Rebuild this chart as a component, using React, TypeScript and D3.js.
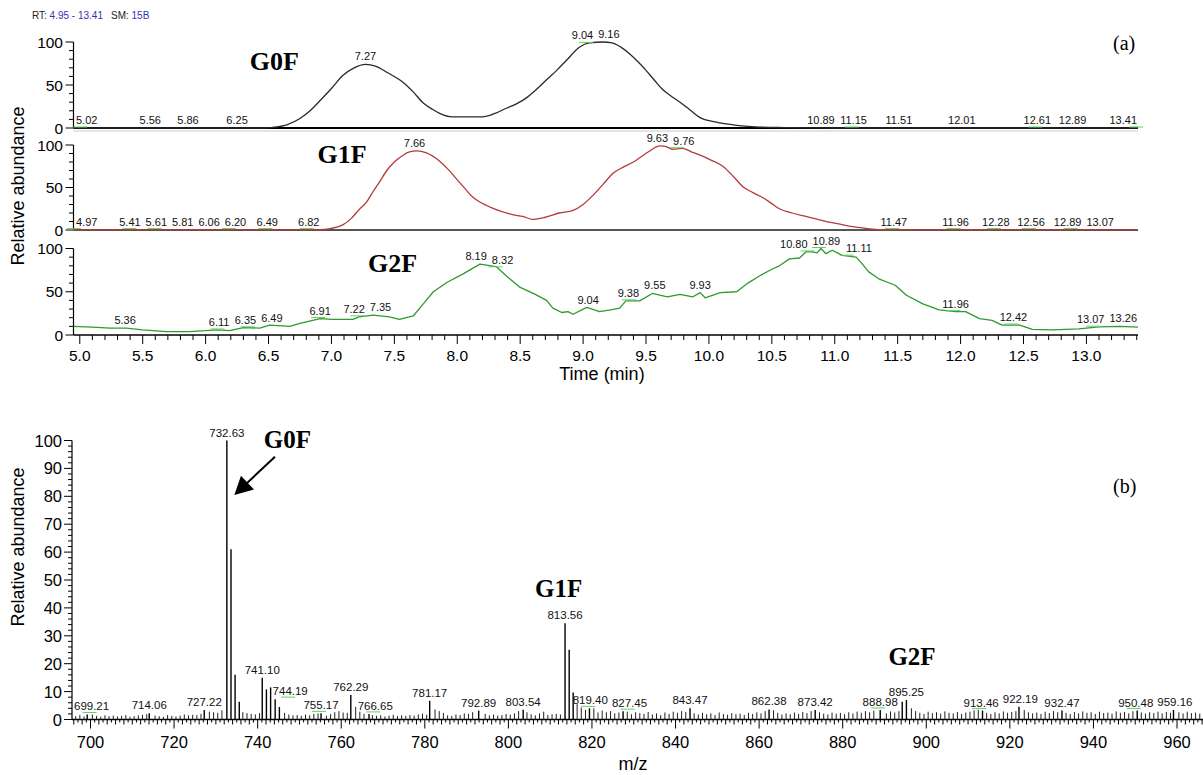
import React from 'react';
import * as d3 from 'd3';

const W = 1203;
const H = 775;

// ---------- Panel (a): extracted ion chromatograms (time in min, relative abundance) ----------
const g0fTrace: [number, number][] = [
  [4.95, 0], [5.5, 0], [6.0, 0], [6.45, 0], [6.55, 1], [6.65, 4], [6.75, 11], [6.83, 20], [6.91, 32],
  [7.0, 46], [7.09, 61], [7.18, 70], [7.27, 74], [7.35, 72], [7.45, 64], [7.57, 53], [7.65, 42],
  [7.73, 29], [7.8, 22], [7.86, 17], [7.96, 13], [8.1, 13], [8.2, 13], [8.3, 17], [8.39, 23],
  [8.47, 28], [8.55, 35], [8.63, 45], [8.71, 56], [8.79, 67], [8.87, 79], [8.97, 94], [9.05, 99],
  [9.16, 100], [9.23, 99], [9.3, 94], [9.38, 85], [9.45, 75], [9.5, 67], [9.57, 55], [9.63, 45],
  [9.7, 37], [9.77, 30], [9.85, 21], [9.93, 12], [10.05, 7], [10.22, 3], [10.4, 1], [10.6, 0.5],
  [11.0, 0], [13.41, 0],
];

const g1fTrace: [number, number][] = [
  [4.95, 0.5], [5.5, 0.5], [6.0, 0.5], [6.5, 0.5], [6.9, 0.5], [7.0, 2], [7.09, 6], [7.16, 14],
  [7.22, 24], [7.28, 33], [7.33, 45], [7.38, 56], [7.44, 70], [7.5, 80], [7.56, 87], [7.62, 92],
  [7.68, 93], [7.75, 91], [7.86, 81], [7.93, 71], [8.0, 59], [8.06, 49], [8.12, 39], [8.19, 32],
  [8.26, 27], [8.35, 22], [8.44, 18], [8.52, 16], [8.6, 12.5], [8.7, 15], [8.81, 20], [8.92, 23],
  [9.0, 30], [9.08, 41], [9.16, 54], [9.24, 67], [9.32, 74], [9.4, 80], [9.45, 85], [9.52, 92],
  [9.61, 99], [9.66, 98], [9.71, 95], [9.79, 96], [9.86, 92], [9.93, 88], [10.02, 82], [10.11, 75],
  [10.2, 62], [10.27, 51], [10.35, 44], [10.43, 38], [10.5, 31], [10.56, 25], [10.66, 20],
  [10.77, 16], [10.88, 12], [11.0, 8], [11.14, 4], [11.25, 2], [11.35, 0.5], [13.41, 0.5],
];

const g2fTrace: [number, number][] = [
  [4.95, 10], [5.1, 9], [5.24, 8], [5.37, 8], [5.5, 6], [5.69, 4], [5.87, 4], [6.0, 5], [6.09, 6],
  [6.19, 5], [6.3, 8.5], [6.43, 8], [6.51, 11.5], [6.67, 10], [6.75, 13.5], [6.91, 19], [7.01, 18],
  [7.17, 18], [7.22, 21], [7.33, 23], [7.46, 21], [7.54, 18], [7.65, 22], [7.73, 36], [7.81, 50],
  [7.92, 61], [8.05, 71], [8.18, 82], [8.31, 79], [8.4, 67], [8.5, 55], [8.62, 47], [8.71, 40],
  [8.76, 31], [8.83, 26], [8.88, 27], [8.92, 24], [9.03, 32], [9.13, 27], [9.22, 29], [9.29, 31],
  [9.34, 39.5], [9.45, 39.5], [9.55, 48], [9.61, 46], [9.67, 44], [9.77, 47], [9.87, 44],
  [9.93, 49], [9.97, 43], [10.09, 49], [10.22, 50], [10.31, 60], [10.41, 69], [10.5, 76],
  [10.56, 80], [10.64, 88], [10.72, 89], [10.77, 96], [10.82, 96], [10.86, 95], [10.89, 100],
  [10.93, 94], [10.98, 98], [11.06, 92], [11.17, 90], [11.22, 82], [11.27, 73], [11.35, 65],
  [11.48, 57.5], [11.57, 46], [11.7, 36], [11.83, 29], [11.96, 27], [12.04, 27], [12.15, 19],
  [12.25, 17], [12.33, 11.5], [12.47, 11.5], [12.57, 6.5], [12.73, 6], [12.94, 7], [13.1, 9.5],
  [13.26, 10], [13.41, 9],
];

const g0fLabels = ['5.02', '5.56', '5.86', '6.25', '7.27', '9.04', '9.16', '10.89', '11.15', '11.51', '12.01', '12.61', '12.89', '13.41'];
const g1fLabels = ['4.97', '5.41', '5.61', '5.81', '6.06', '6.20', '6.49', '6.82', '7.66', '9.63', '9.76', '11.47', '11.96', '12.28', '12.56', '12.89', '13.07'];
const g2fLabels = ['5.36', '6.11', '6.35', '6.49', '6.91', '7.22', '7.35', '8.19', '8.32', '9.04', '9.38', '9.55', '9.93', '10.80', '10.89', '11.11', '11.96', '12.42', '13.07', '13.26'];

const markedA = [
  ['5.02', '11.15', '12.61', '13.41', '9.04'],
  ['4.97', '5.41', '5.61', '6.20', '6.49', '6.82', '9.76', '11.47', '11.96', '12.28', '12.56', '12.89'],
  ['6.11', '6.35', '6.91', '7.22', '8.32', '9.38', '10.80', '10.89', '11.11', '11.96', '12.42', '13.07'],
];

const traceNames = ['G0F', 'G1F', 'G2F'];
const timeTicks = [5.0, 5.5, 6.0, 6.5, 7.0, 7.5, 8.0, 8.5, 9.0, 9.5, 10.0, 10.5, 11.0, 11.5, 12.0, 12.5, 13.0];
const abundTicksA = [0, 50, 100];

// ---------- Panel (b): mass spectrum ----------
const spectrumPeaks: [number, number][] = [
  [699.21, 1.8], [714.06, 2.2], [727.22, 3.4], [732.63, 100], [733.62, 61], [734.6, 16], [735.6, 6.4],
  [741.10, 15], [742.1, 10.8], [743.1, 11.5], [744.19, 7.3], [745.2, 4.5], [755.17, 2.2],
  [762.29, 8.8], [766.65, 2.0], [781.17, 6.7], [792.89, 3.2], [803.54, 3.5], [813.56, 34.5],
  [814.55, 25], [815.5, 9.7], [819.40, 4.0], [827.45, 3.0], [843.47, 4.0], [862.38, 3.6],
  [873.42, 3.4], [888.98, 3.4], [894.25, 6.4], [895.25, 7.0], [913.46, 3.2], [922.19, 4.6],
  [932.47, 3.2], [950.48, 3.2], [959.16, 3.4],
];

const spectrumLabels = ['699.21', '714.06', '727.22', '732.63', '741.10', '744.19', '755.17', '762.29', '766.65', '781.17', '792.89', '803.54', '813.56', '819.40', '827.45', '843.47', '862.38', '873.42', '888.98', '895.25', '913.46', '922.19', '932.47', '950.48', '959.16'];
const markedB = ['699.21', '744.19', '755.17', '766.65', '819.40', '827.45', '888.98', '913.46', '950.48'];

// noise floor, one value per nominal m/z starting at 696
const noiseStart = 696;
const noiseLevels = [
  1.2, 1.6, 1.1, 1.4, 1.8, 1.3, 1.0, 1.5, 1.2, 1.4,
  1.1, 1.3, 1.6, 1.0, 1.2, 1.5, 1.7, 1.9, 2.1, 1.4,
  1.2, 1.0, 1.6, 1.3, 1.1, 1.4, 1.8, 1.5, 1.7, 1.6,
  2.0, 3.2, 2.8, 2.6, 2.4, 3.3, 0, 0, 0, 0,
  2.6, 2.3, 2.0, 1.8, 2.3, 0, 0, 0, 0, 0,
  2.4, 1.8, 1.5, 1.6, 1.3, 1.8, 1.5, 2.0, 2.2, 1.6,
  1.4, 1.9, 2.6, 3.0, 2.5, 2.4, 0, 4.5, 2.8, 2.0,
  1.8, 1.6, 1.3, 1.5, 1.1, 1.4, 1.7, 1.2, 1.5, 1.3,
  1.6, 1.4, 1.8, 2.1, 1.7, 0, 3.6, 3.0, 2.4, 1.5,
  1.3, 1.8, 1.6, 2.2, 2.0, 2.6, 2.9, 3.2, 2.0, 1.5,
  1.8, 1.4, 1.6, 2.0, 1.7, 2.2, 3.0, 3.4, 2.6, 1.9,
  1.5, 2.2, 2.8, 1.6, 1.9, 2.0, 1.8, 0, 0, 0,
  5.5, 4.3, 3.4, 2.8, 4.0, 2.5, 3.2, 2.6, 3.0, 2.2,
  2.5, 3.0, 2.8, 1.9, 2.6, 2.3, 2.0, 2.7, 1.8, 2.2,
  1.6, 2.5, 2.0, 2.8, 2.4, 3.0, 2.7, 4.0, 2.2, 1.8,
  2.4, 1.9, 2.2, 1.6, 2.5, 2.0, 1.7, 2.3, 1.9, 2.1,
  1.6, 2.4, 2.0, 2.6, 2.2, 3.0, 3.6, 3.3, 2.4, 1.8,
  2.2, 1.9, 2.5, 2.0, 2.7, 2.3, 3.0, 3.4, 2.6, 2.1,
  1.8, 2.5, 2.1, 2.4, 1.9, 2.6, 2.2, 2.8, 2.4, 3.0,
  2.6, 3.2, 3.4, 2.8, 2.2, 2.9, 2.5, 3.0, 0, 0,
  4.0, 3.0, 2.4, 2.0, 2.8, 2.3, 2.6, 2.1, 2.9, 2.4,
  2.2, 2.7, 2.0, 2.5, 2.8, 3.3, 3.5, 3.0, 2.4, 2.0,
  2.6, 2.2, 2.9, 2.4, 2.7, 3.0, 0, 3.4, 2.6, 2.2,
  2.5, 2.0, 2.8, 2.3, 3.0, 2.6, 3.2, 2.4, 2.0, 2.7,
  2.2, 2.9, 2.4, 2.6, 2.0, 2.8, 2.3, 2.5, 2.1, 2.9,
  2.4, 2.7, 2.2, 3.0, 3.2, 2.5, 2.1, 2.6, 2.3, 2.8,
  2.2, 2.7, 2.4, 3.1, 2.6, 2.2, 2.8, 2.3, 2.5, 2.1,
  2.4,
];

const mzTicks = [700, 720, 740, 760, 780, 800, 820, 840, 860, 880, 900, 920, 940, 960];
const abundTicksB = [0, 10, 20, 30, 40, 50, 60, 70, 80, 90, 100];
const spectrumAnnotations = [
  { name: 'G0F', mz: 732.63 },
  { name: 'G1F', mz: 813.56 },
  { name: 'G2F', mz: 895.25 },
];

// ---------- helpers ----------
const SANS = '"Liberation Sans", Arial, Helvetica, sans-serif';
const SERIF = '"Liberation Serif", "Times New Roman", serif';

function textWidth(s: string, size: number) {
  let w = 0;
  for (const c of s) w += c === '.' || c === ',' ? 0.278 : 0.556;
  return w * size;
}

function valueAt(trace: [number, number][], t: number) {
  for (let i = 0; i < trace.length - 1; i++) {
    const [t0, v0] = trace[i];
    const [t1, v1] = trace[i + 1];
    if (t >= t0 && t <= t1) return v0 + ((v1 - v0) * (t - t0)) / (t1 - t0);
  }
  return trace[trace.length - 1][1];
}

type Lab = { text: string; x: number; ax: number; y: number; ay: number; w: number };

function spread(items: Lab[], xmin: number, xmax: number, pad = 5) {
  const s = items.slice().sort((a, b) => a.x - b.x);
  for (let it = 0; it < 100; it++) {
    let moved = false;
    for (let i = 0; i < s.length; i++)
      for (let j = i + 1; j < s.length; j++) {
        const a = s[i], b = s[j];
        if (Math.abs(a.y - b.y) > 10) continue;
        const need = (a.w + b.w) / 2 + pad;
        const d = b.x - a.x;
        if (d < need - 0.01) {
          const sh = (need - d) / 2;
          a.x -= sh;
          b.x += sh;
          moved = true;
        }
      }
    for (const l of s) {
      if (l.x - l.w / 2 < xmin) { l.x = xmin + l.w / 2; }
      if (l.x + l.w / 2 > xmax) { l.x = xmax - l.w / 2; }
    }
    if (!moved) break;
  }
  return s;
}

export default function App() {
  // ----- panel (a) geometry -----
  const xA = d3.scaleLinear().domain([4.95, 13.41]).range([73.5, 1138]);
  const panels = [
    { y0: 128, y100: 42, color: '#2a2a2a', base: '#000', baseW: 2.2 },
    { y0: 230, y100: 145, color: '#b23a3a', base: '#555', baseW: 2 },
    { y0: 335, y100: 248.5, color: '#2f9a2f', base: '#000', baseW: 1.4 },
  ];
  const traces = [g0fTrace, g1fTrace, g2fTrace];
  const labelSets = [g0fLabels, g1fLabels, g2fLabels];
  const curves = [d3.curveMonotoneX, d3.curveMonotoneX, d3.curveLinear];
  const namePos = [
    { t: 6.35, v: 68 },
    { t: 6.89, v: 79 },
    { t: 7.29, v: 73 },
  ];

  const minorT: number[] = [];
  for (let k = 50; k <= 134; k++) minorT.push(k / 10);

  // ----- panel (b) geometry -----
  const xB = d3.scaleLinear().domain([700, 960]).range([90.5, 1177]);
  const yB = d3.scaleLinear().domain([0, 100]).range([719.5, 440.5]);
  const mzMin = xB.invert(72);
  const mzMax = xB.invert(1203);

  const noiseBars = noiseLevels
    .map((v, i) => [noiseStart + i + 0.45, v] as [number, number])
    .filter(([mz, v]) => v > 0 && mz >= mzMin && mz <= mzMax && !spectrumPeaks.some(([p]) => Math.abs(p - mz) < 0.6));
  const allBars = [...noiseBars, ...spectrumPeaks];

  const minorMz: number[] = [];
  for (let m = Math.ceil(mzMin); m <= mzMax; m++) minorMz.push(m);
  const minorAb = d3.range(0, 101, 2);

  const specLabSize = 11.5;
  const rawSpec = spectrumLabels.map((s) => {
    const mz = +s;
    const pk = spectrumPeaks.find(([p]) => Math.abs(p - mz) < 0.01)!;
    const ay = yB(pk[1]);
    const lab: Lab = { text: s, x: xB(mz), ax: xB(mz), y: ay - 4, ay, w: textWidth(s, specLabSize) };
    // keep the label clear of taller neighbouring bars
    for (let it = 0; it < 5; it++) {
      const hits = allBars
        .map(([m, v]) => ({ x: xB(m), top: yB(v) }))
        .filter((b) => Math.abs(b.x - lab.ax) > 1 && b.top < lab.y + 1 && b.x > lab.x - lab.w / 2 - 1 && b.x < lab.x + lab.w / 2 + 1);
      if (!hits.length) break;
      const left = hits.filter((h) => h.x < lab.ax);
      if (left.length >= hits.length - left.length) {
        lab.x = d3.max(left, (h) => h.x)! + 2 + lab.w / 2;
      } else {
        lab.x = d3.min(hits.filter((h) => h.x > lab.ax), (h) => h.x)! - 2 - lab.w / 2;
      }
    }
    return lab;
  });
  const specLabels = spread(rawSpec, 74, 1200, 4);

  const arrowTail = { x: 275, y: 456.7 };
  const peakMain = spectrumPeaks.find(([p]) => p === 732.63)!;
  const arrowTip = { x: xB(peakMain[0]) + 7.5, y: yB(80.5) };
  const adx = arrowTip.x - arrowTail.x, ady = arrowTip.y - arrowTail.y;
  const alen = Math.hypot(adx, ady);
  const ux = adx / alen, uy = ady / alen;
  const headL = 18, headW = 9.5;
  const bx = arrowTip.x - ux * headL, by = arrowTip.y - uy * headL;
  const headPts = [
    [arrowTip.x, arrowTip.y],
    [bx + -uy * headW, by + ux * headW],
    [bx - -uy * headW, by - ux * headW],
  ];

  const annPos = [
    { dx: 37, y: 448 },
    { dx: -30, y: 597 },
    { dx: -18, y: 665 },
  ];

  return (
    <svg
      width={W}
      height={H}
      viewBox={`0 0 ${W} ${H}`}
      style={{ position: 'absolute', left: 0, top: 0, background: '#fff', display: 'block' }}
    >
      <rect x={0} y={0} width={W} height={H} fill="#fff" />

      {/* header */}
      <text x={32} y={19} fontFamily={SANS} fontSize={10} fill="#222">
        RT: <tspan fill="#3535b0">4.95 - 13.41</tspan>
        <tspan dx={8}>SM: </tspan>
        <tspan fill="#3535b0">15B</tspan>
      </text>

      {/* ===== panel (a) ===== */}
      {panels.map((p, pi) => {
        const y = d3.scaleLinear().domain([0, 100]).range([p.y0, p.y100]);
        const line = d3
          .line<[number, number]>()
          .x((d) => xA(d[0]))
          .y((d) => y(d[1]))
          .curve(curves[pi]);
        const labs = spread(
          labelSets[pi].map((s) => {
            const t = +s;
            const v = valueAt(traces[pi], t);
            const ay = y(v);
            return { text: s, x: xA(t), ax: xA(t), y: ay - 4, ay, w: textWidth(s, 11) };
          }),
          76,
          1137,
          5
        );
        const minorY = d3.range(0, 101, 10);
        return (
          <g key={pi}>
            {/* y axis */}
            <line x1={73.5} x2={73.5} y1={p.y100} y2={p.y0} stroke="#000" strokeWidth={1.2} />
            {minorY.map((v) => (
              <line key={v} x1={abundTicksA.includes(v) ? 65.5 : 69} x2={73.5} y1={y(v)} y2={y(v)} stroke="#000" strokeWidth={1} />
            ))}
            {abundTicksA.map((v) => (
              <text key={v} x={63} y={y(v) + 5.5} textAnchor="end" fontFamily={SANS} fontSize={15.5} fill="#000">
                {v}
              </text>
            ))}
            {/* baseline */}
            <line x1={73.5} x2={1138} y1={p.y0} y2={p.y0} stroke={p.base} strokeWidth={p.baseW} />
            {pi === 1 && <line x1={73.5} x2={1138} y1={131} y2={131} stroke="#c8c8c8" strokeWidth={1} />}
            {/* trace */}
            <path d={line(traces[pi]) || ''} fill="none" stroke={p.color} strokeWidth={1.3} strokeLinejoin="round" />
            {/* peak markers & labels */}
            {labs.map((l) =>
              markedA[pi].includes(l.text) ? (
                <line key={'m' + l.text} x1={l.ax - 9} x2={l.ax + 5} y1={l.ay - 1} y2={l.ay - 1} stroke="#5fcf5f" strokeWidth={1} />
              ) : null
            )}
            {labs.map((l) => (
              <text key={l.text} x={l.x} y={l.y} textAnchor="middle" fontFamily={SANS} fontSize={11} fill="#111">
                {l.text}
              </text>
            ))}
            {/* compound name */}
            <text x={xA(namePos[pi].t)} y={y(namePos[pi].v)} fontFamily={SERIF} fontWeight="bold" fontSize={26} fill="#000">
              {traceNames[pi]}
            </text>
          </g>
        );
      })}

      {/* x axis (a) */}
      {minorT.map((t) => {
        const major = Math.abs(t * 2 - Math.round(t * 2)) < 1e-6;
        return <line key={t} x1={xA(t)} x2={xA(t)} y1={335} y2={major ? 344 : 340} stroke="#000" strokeWidth={1} />;
      })}
      {timeTicks.map((t) => (
        <text key={t} x={xA(t)} y={361} textAnchor="middle" fontFamily={SANS} fontSize={15.5} fill="#000">
          {t.toFixed(1)}
        </text>
      ))}
      <text x={xA(9.15)} y={380} textAnchor="middle" fontFamily={SANS} fontSize={18} fill="#000">
        Time (min)
      </text>
      <text transform="translate(24,186) rotate(-90)" textAnchor="middle" fontFamily={SANS} fontSize={18} fill="#000">
        Relative abundance
      </text>
      <text x={1113} y={50} fontFamily={SERIF} fontSize={20} fill="#000">
        (a)
      </text>

      {/* ===== panel (b) ===== */}
      <line x1={72} x2={72} y1={yB(100)} y2={yB(0)} stroke="#000" strokeWidth={1.2} />
      {minorAb.map((v) => (
        <line key={v} x1={v % 10 === 0 ? 64 : 68} x2={72} y1={yB(v)} y2={yB(v)} stroke="#000" strokeWidth={1} />
      ))}
      {abundTicksB.map((v) => (
        <text key={v} x={62} y={yB(v) + 6} textAnchor="end" fontFamily={SANS} fontSize={16.5} fill="#000">
          {v}
        </text>
      ))}
      <line x1={72} x2={1203} y1={yB(0)} y2={yB(0)} stroke="#000" strokeWidth={1.4} />
      {minorMz.map((m) => (
        <line
          key={m}
          x1={xB(m)}
          x2={xB(m)}
          y1={yB(0)}
          y2={yB(0) + (m % 20 === 0 ? 9 : m % 2 === 0 ? 5 : 3)}
          stroke="#000"
          strokeWidth={1}
        />
      ))}
      {mzTicks.map((m) => (
        <text key={m} x={xB(m)} y={748} textAnchor="middle" fontFamily={SANS} fontSize={16.5} fill="#000">
          {m}
        </text>
      ))}
      <text x={633} y={770} textAnchor="middle" fontFamily={SANS} fontSize={18} fill="#000">
        m/z
      </text>
      <text transform="translate(24,547) rotate(-90)" textAnchor="middle" fontFamily={SANS} fontSize={18} fill="#000">
        Relative abundance
      </text>
      <text x={1113} y={493} fontFamily={SERIF} fontSize={20} fill="#000">
        (b)
      </text>

      {/* spectrum bars */}
      {noiseBars.map(([mz, v]) => (
        <line key={'n' + mz} x1={xB(mz)} x2={xB(mz)} y1={yB(0)} y2={yB(v)} stroke="#222" strokeWidth={1} />
      ))}
      {spectrumPeaks.map(([mz, v]) => (
        <line key={'p' + mz} x1={xB(mz)} x2={xB(mz)} y1={yB(0)} y2={yB(v)} stroke="#000" strokeWidth={1.4} />
      ))}
      {specLabels.map((l) =>
        markedB.includes(l.text) ? (
          <line key={'mb' + l.text} x1={l.x - 9} x2={l.x + 5} y1={l.y + 2} y2={l.y + 2} stroke="#5fcf5f" strokeWidth={1} />
        ) : null
      )}
      {specLabels.map((l) => (
        <text key={'lb' + l.text} x={l.x} y={l.y} textAnchor="middle" fontFamily={SANS} fontSize={specLabSize} fill="#111">
          {l.text}
        </text>
      ))}

      {/* annotations */}
      {spectrumAnnotations.map((a, i) => (
        <text key={a.name} x={xB(a.mz) + annPos[i].dx} y={annPos[i].y} fontFamily={SERIF} fontWeight="bold" fontSize={25} fill="#000">
          {a.name}
        </text>
      ))}
      <line x1={arrowTail.x} y1={arrowTail.y} x2={bx + ux * 2} y2={by + uy * 2} stroke="#000" strokeWidth={2} />
      <polygon points={headPts.map((p) => p.join(',')).join(' ')} fill="#000" />
    </svg>
  );
}
